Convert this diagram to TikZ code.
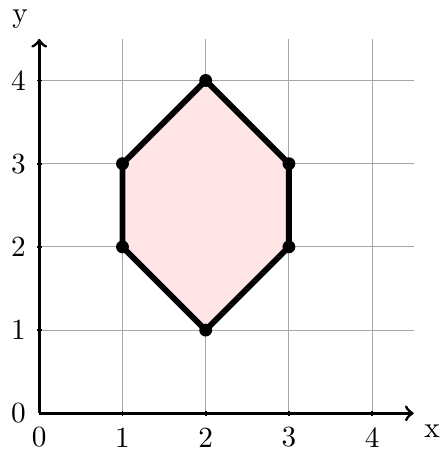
\documentclass[tikz,border=0pt]{standalone}
\begin{document}
\begin{tikzpicture}[
  gridline/.style={gray!70, line width=0.4pt},
  axisline/.style={black, line width=1pt, ->},
  polyedge/.style={black, line width=2pt, line join=round, fill=red!10},
  vdot/.style={circle, fill=black, inner sep=0pt, minimum size=4.4pt},
  ticklabel/.style={font=\normalsize, inner sep=0pt},
  axislabel/.style={font=\normalsize, inner sep=0pt}
]
\useasboundingbox (-0.472,-0.441) rectangle (4.816,4.967);
% grid
\foreach \k in {1,2,3,4} {
  \draw[gridline] (\k,0) -- (\k,4.5);
  \draw[gridline] (0,\k) -- (4.5,\k);
}
% polygon
\coordinate (p1) at (2,1);
\coordinate (p2) at (3,2);
\coordinate (p3) at (3,3);
\coordinate (p4) at (2,4);
\coordinate (p5) at (1,3);
\coordinate (p6) at (1,2);
\draw[polyedge] (p1) -- (p2) -- (p3) -- (p4) -- (p5) -- (p6) -- cycle;
% axes
\coordinate (o) at (0,0);
\coordinate (xe) at (4.5,0);
\coordinate (ye) at (0,4.5);
\draw[axisline] (o) -- (xe);
\draw[axisline] (o) -- (ye);
\foreach \k in {1,2,3,4} {
  \draw[black, line width=0.6pt] (\k,-0.03) -- (\k,0.03);
  \draw[black, line width=0.6pt] (-0.03,\k) -- (0.03,\k);
}
% tick labels
\foreach \k in {0,1,2,3,4} {
  \node[ticklabel] (xl\k) at (\k,-0.29) {\k};
  \node[ticklabel] (yl\k) at (-0.25,\k) {\k};
}
\node[axislabel] (xlab) at (4.72,-0.21) {x};
\node[axislabel] (ylab) at (-0.23,4.74) {y};
% vertices
\foreach \p in {p1,p2,p3,p4,p5,p6} {
  \node[vdot] (d\p) at (\p) {};
}
\end{tikzpicture}
\end{document}
